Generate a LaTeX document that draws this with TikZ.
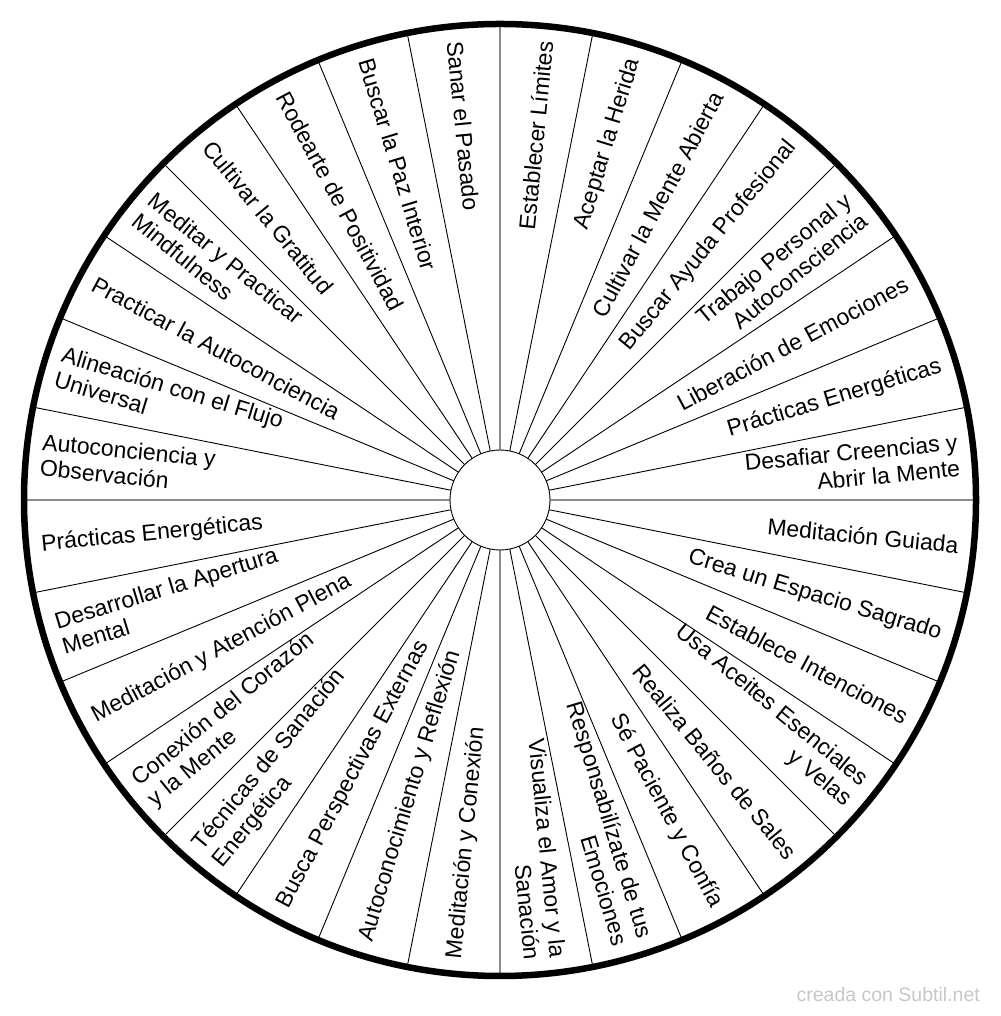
\documentclass[tikz,border=0pt]{standalone}
\usepackage{fontspec}
\setmainfont{Liberation Sans}
\usetikzlibrary{calc}
\begin{document}
\begin{tikzpicture}[x=1pt,y=1pt,
  divline/.style={black, line width=0.9pt},
  axisline/.style={gray!90, line width=2pt},
  rlabel/.style={font=\fontsize{23}{26}\selectfont, inner sep=0pt, anchor=east, align=right},
  llabel/.style={font=\fontsize{23}{26}\selectfont, inner sep=0pt, anchor=west, align=left}]
\useasboundingbox (0,0) rectangle (1000,1016);
\coordinate (c) at (500,516);
% dividing lines
\foreach \k in {0,...,31}{
  \pgfmathtruncatemacro{\m}{mod(\k,8)}
  \ifnum\m=0
    \draw[axisline] ($(c)+(\k*11.25:50)$) -- ($(c)+(\k*11.25:474)$);
  \else
    \draw[divline] ($(c)+(\k*11.25:50)$) -- ($(c)+(\k*11.25:474)$);
  \fi
}
\node[circle, draw=black, line width=0.9pt, fill=white, minimum size=100pt, inner sep=0pt] (hub) at (c) {};
\node[circle, draw=black, line width=6.5pt, minimum size=952pt, inner sep=0pt] (rim) at (c) {};
% labels
\foreach \i/\t in {
 0/{Establecer Límites},
 1/{Aceptar la Herida},
 2/{Cultivar la Mente Abierta},
 3/{Buscar Ayuda Profesional},
 4/{Trabajo Personal y\\Autoconsciencia},
 5/{Liberación de Emociones},
 6/{Prácticas Energéticas},
 7/{Desafiar Creencias y\\Abrir la Mente},
 8/{Meditación Guiada},
 9/{Crea un Espacio Sagrado},
 10/{Establece Intenciones},
 11/{Usa Aceites Esenciales\\y Velas},
 12/{Realiza Baños de Sales},
 13/{Sé Paciente y Confía},
 14/{Responsabilízate de tus\\Emociones},
 15/{Visualiza el Amor y la\\Sanación}}{
  \pgfmathsetmacro{\a}{84.375-11.25*\i}
  \node[rlabel, rotate=\a] (r\i) at ($(c)+(\a:461)$) {\t};
}
\foreach \i/\t in {
 16/{Meditación y Conexión},
 17/{Autoconocimiento y Reflexión},
 18/{Busca Perspectivas Externas},
 19/{Técnicas de Sanación\\Energética},
 20/{Conexión del Corazón\\y la Mente},
 21/{Meditación y Atención Plena},
 22/{Desarrollar la Apertura\\Mental},
 23/{Prácticas Energéticas},
 24/{Autoconciencia y\\Observación},
 25/{Alineación con el Flujo\\Universal},
 26/{Practicar la Autoconciencia},
 27/{Meditar y Practicar\\Mindfulness},
 28/{Cultivar la Gratitud},
 29/{Rodearte de Positividad},
 30/{Buscar la Paz Interior},
 31/{Sanar el Pasado}}{
  \pgfmathsetmacro{\a}{84.375-11.25*\i}
  \pgfmathsetmacro{\b}{\a+180}
  \node[llabel, rotate=\b] (l\i) at ($(c)+(\a:461)$) {\t};
}
\node[anchor=base east, inner sep=0pt, text=black!22, font=\fontsize{19.5}{21}\selectfont] (credit) at (980,14) {creada con Subtil.net};
\end{tikzpicture}
\end{document}
